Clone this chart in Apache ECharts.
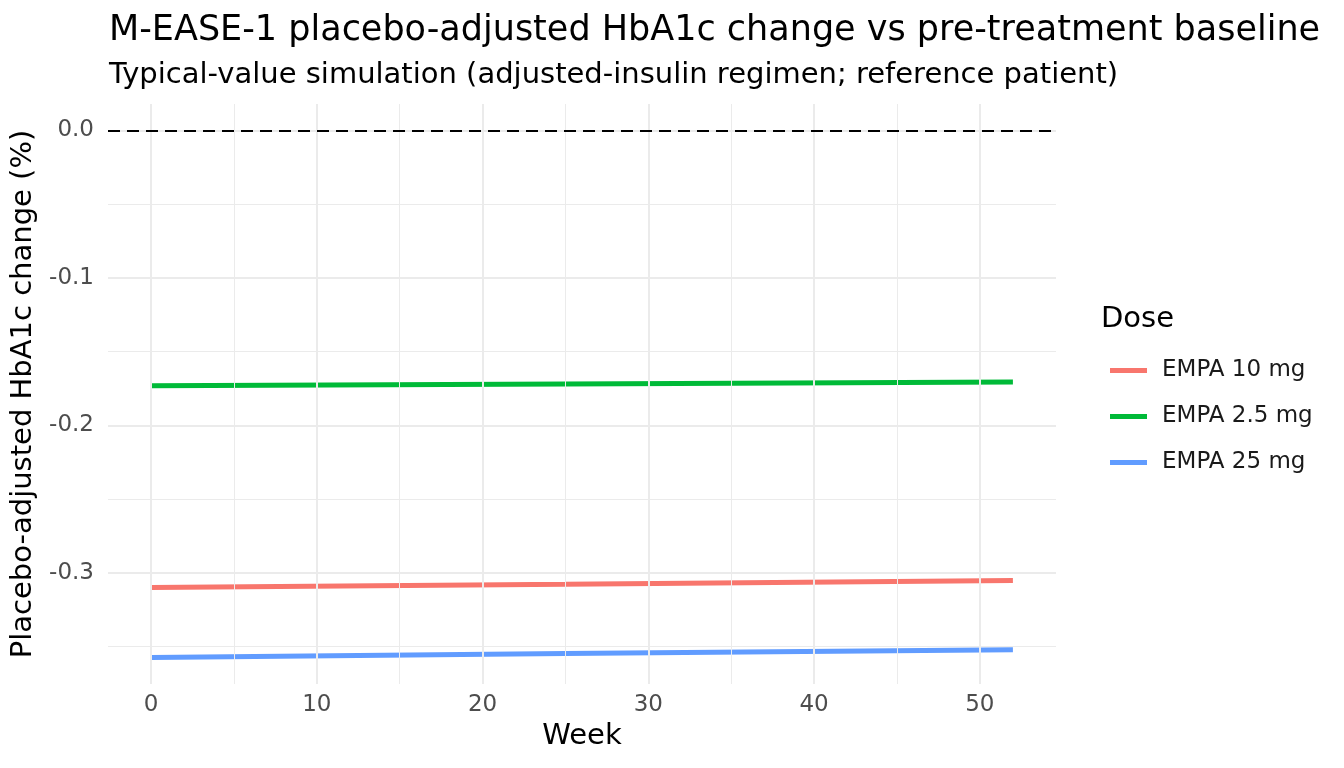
<!DOCTYPE html>
<html><head><meta charset="utf-8">
<script src="https://cdn.jsdelivr.net/npm/echarts@6/dist/echarts.min.js"></script>
<style>html,body{margin:0;padding:0;background:#fff}#c{width:1344px;height:768px}</style>
</head><body><div id="c"></div>
<script>
var weeks = [0, 25, 52];
var doseNames = ['EMPA 10 mg', 'EMPA 2.5 mg', 'EMPA 25 mg'];
var empa10 = [-0.3099, -0.3077, -0.3052];
var empa2p5 = [-0.1731, -0.1720, -0.1706];
var empa25 = [-0.3574, -0.3547, -0.3520];
var doseColors = ['#F8766D', '#00BA38', '#619CFF'];
var xTicks = [0, 10, 20, 30, 40, 50];
var xMinor = [5, 15, 25, 35, 45];
var yTicks = [0, -0.1, -0.2, -0.3];
var yMinor = [-0.05, -0.15, -0.25, -0.35];
var refLine = 0;

var FONT = 'DejaVu Sans';
function pairs(v){ return weeks.map(function(w,i){ return [w, v[i]]; }); }
var seriesVals = [empa10, empa2p5, empa25];

var gridLines = [];
xMinor.forEach(function(v){ gridLines.push({xAxis: v, lineStyle:{color:'#ebebeb', width:1, type:'solid'}}); });
yMinor.forEach(function(v){ gridLines.push({yAxis: v, lineStyle:{color:'#ebebeb', width:1, type:'solid'}}); });
xTicks.forEach(function(v){ gridLines.push({xAxis: v, lineStyle:{color:'#ebebeb', width:2, type:'solid'}}); });
yTicks.forEach(function(v){ gridLines.push({yAxis: v, lineStyle:{color:'#ebebeb', width:2, type:'solid'}}); });

var series = [{
  type:'line', name:'_grid', data:[[0,0]], symbol:'none', lineStyle:{opacity:0}, z:1, silent:true,
  markLine:{silent:true, symbol:['none','none'], label:{show:false}, animation:false, data:gridLines}
}];
doseNames.forEach(function(n,i){
  series.push({type:'line', name:n, data:pairs(seriesVals[i]), symbol:'none', z:3,
    lineStyle:{color:doseColors[i], width:5}, itemStyle:{color:doseColors[i]}});
});
series.push({type:'line', name:'_ref', data:[[0,0]], symbol:'none', lineStyle:{opacity:0}, z:4, silent:true,
  markLine:{silent:true, symbol:['none','none'], label:{show:false}, animation:false,
    data:[{yAxis: refLine, lineStyle:{color:'#000', width:2, type:[12,7]}}]}});

var chart = echarts.init(document.getElementById('c'), null, {renderer:'canvas'});
chart.setOption({
  animation:false,
  backgroundColor:'#fff',
  textStyle:{fontFamily:FONT},
  title:[
    {text:'M-EASE-1 placebo-adjusted HbA1c change vs pre-treatment baseline', left:104, top:8,
     textStyle:{fontFamily:FONT, fontSize:35, fontWeight:'normal', color:'#000'}},
    {text:'Typical-value simulation (adjusted-insulin regimen; reference patient)', left:104, top:56,
     textStyle:{fontFamily:FONT, fontSize:29, fontWeight:'normal', color:'#000'}},
    {text:'Dose', left:1096, top:300,
     textStyle:{fontFamily:FONT, fontSize:29, fontWeight:'normal', color:'#000'}}
  ],
  legend:{
    data:doseNames, orient:'vertical', left:1105, top:352, icon:'rect', itemWidth:37, itemHeight:5,
    itemGap:19, selectedMode:false,
    textStyle:{fontFamily:FONT, fontSize:23, color:'#1a1a1a', lineHeight:27, padding:[0,0,0,10]}
  },
  grid:{left:108, right:288, top:104, bottom:84, containLabel:false, outerBoundsMode:'none'},
  xAxis:{type:'value', min:-2.6, max:54.6,
    name:'Week', nameLocation:'middle', nameGap:38,
    nameTextStyle:{fontFamily:FONT, fontSize:29, color:'#000'},
    axisLine:{show:false}, axisTick:{show:false}, splitLine:{show:false},
    axisLabel:{customValues:xTicks, fontFamily:FONT, fontSize:23, color:'#4d4d4d', margin:10,
      formatter:function(v){ return String(Math.round(v)); }}},
  yAxis:{type:'value', min:-0.3753, max:0.0179,
    name:'Placebo-adjusted HbA1c change (%)', nameLocation:'middle', nameGap:65, nameRotate:90,
    nameTextStyle:{fontFamily:FONT, fontSize:29, color:'#000'},
    axisLine:{show:false}, axisTick:{show:false}, splitLine:{show:false},
    axisLabel:{customValues:yTicks, fontFamily:FONT, fontSize:23, color:'#4d4d4d', margin:14,
      formatter:function(v){ var r = Math.round(v*10)/10; if (Math.abs(r) < 1e-9) return '0.0'; return r.toFixed(1); }}},
  series:series
});
</script></body></html>
